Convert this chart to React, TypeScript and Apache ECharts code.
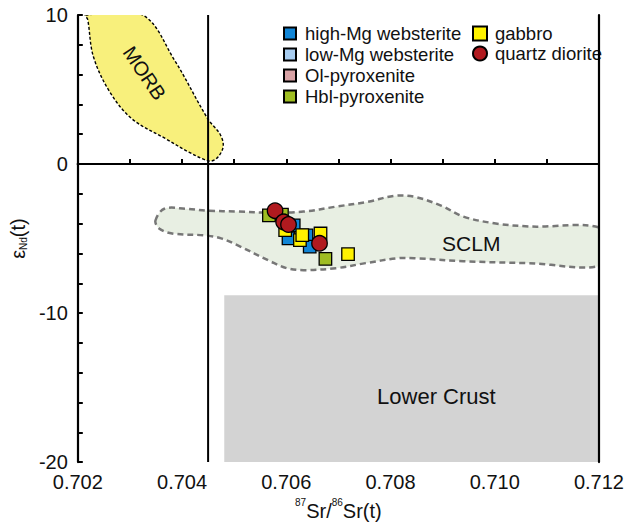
import React, { useEffect, useRef } from 'react';
import * as echarts from 'echarts';

// ---- data ----
const xLabelValues = [0.702, 0.704, 0.706, 0.708, 0.71, 0.712];
const yLabelValues = [-20, -10, 0, 10];

const highMgWebsterite: number[][] = [
  [0.706143, -4.11], [0.706043, -4.99], [0.706388, -4.79], [0.70645, -5.54],
];
const lowMgWebsterite: number[][] = [];
const olPyroxenite: number[][] = [];
const hblPyroxenite: number[][] = [
  [0.705667, -3.44], [0.705917, -3.39], [0.706751, -6.37],
];
const gabbro: number[][] = [
  [0.705979, -4.44], [0.706262, -5.1], [0.706307, -4.77], [0.706657, -4.66], [0.707185, -6.05],
];
const quartzDiorite: number[][] = [
  [0.705785, -3.13], [0.705949, -3.88], [0.706043, -4.06], [0.706638, -5.32],
];

const morbOutline: number[][] = [
  [0.70215, 10], [0.70324, 10], [0.70385, 7], [0.7045, 3], [0.70473, 2], [0.70479, 1.2],
  [0.70469, 0.47], [0.70456, 0.2], [0.70441, 0.33], [0.70413, 0.8], [0.7037, 1.67],
  [0.70305, 3], [0.70262, 4.8], [0.7023, 7.2], [0.70219, 9.7],
];
const sclmOutline: number[][] = [
  [0.70349, -3.79], [0.70366, -3.0], [0.70407, -3.0], [0.7045, -3.13], [0.70507, -3.19],
  [0.70569, -3.26], [0.70633, -3.19], [0.70695, -2.86], [0.70757, -2.53], [0.70808, -2.13],
  [0.70846, -2.2], [0.70897, -2.79], [0.7094, -3.53], [0.71002, -3.99], [0.71066, -4.19],
  [0.7121, -4.4], [0.7121, -6.72], [0.71066, -6.65], [0.7094, -6.52], [0.70846, -6.32],
  [0.70814, -6.32], [0.70752, -6.65], [0.70695, -6.99], [0.70633, -7.12], [0.70601, -6.99],
  [0.70569, -6.52], [0.70507, -5.46], [0.70475, -4.99], [0.70445, -4.79], [0.70381, -4.66],
  [0.70356, -4.32],
];
const lowerCrustBox: number[][] = [[0.70481, -20], [0.712, -8.8]];
const bulkEarthSr = 0.7045;
const chondriteNd = 0;

const FONT = '"Liberation Sans", Arial, sans-serif';
const TXT = '#111';

function polygonSeries(points: number[][], style: any, z: number, smooth: number) {
  return {
    type: 'custom',
    z,
    silent: true,
    clip: true,
    data: [points[0]],
    renderItem: (_p: any, api: any) => ({
      type: 'polygon',
      shape: { points: points.map((pt) => api.coord(pt)), smooth },
      style,
    }),
  };
}

function textSeries(text: string, at: number[], fontSize: number, rotationDeg: number) {
  return {
    type: 'custom',
    z: 4,
    silent: true,
    data: [at],
    renderItem: (_p: any, api: any) => {
      const c = api.coord(at);
      return {
        type: 'text',
        x: c[0],
        y: c[1],
        rotation: (rotationDeg * Math.PI) / 180,
        style: {
          text,
          fill: TXT,
          fontSize,
          fontFamily: FONT,
          align: 'center',
          verticalAlign: 'middle',
          textAlign: 'center',
          textVerticalAlign: 'middle',
        },
      };
    },
  };
}

function scatter(name: string, data: number[][], color: string, symbol: string, size: number) {
  return {
    type: 'scatter',
    name,
    data,
    symbol,
    symbolSize: size,
    z: 6,
    itemStyle: { color, borderColor: '#000', borderWidth: 1.3, opacity: 1 },
  };
}

export default function App() {
  const ref = useRef<HTMLDivElement>(null);
  useEffect(() => {
    if (!ref.current) return;
    const chart = echarts.init(ref.current, undefined, { renderer: 'svg' });
    const axisLine = { show: true, lineStyle: { color: '#000', width: 2.2 } };
    const option: any = {
      animation: false,
      backgroundColor: '#fff',
      grid: { left: 77, top: 15, width: 530, height: 451, show: false },
      legend: [
        {
          orient: 'vertical',
          left: 278,
          top: 19,
          itemWidth: 12,
          itemHeight: 12,
          itemGap: 2,
          textStyle: { fontSize: 18.5, fontFamily: FONT, color: TXT, padding: [0, 0, 0, 4] },
          data: [
            { name: 'high-Mg websterite', icon: 'rect' },
            { name: 'low-Mg websterite', icon: 'rect' },
            { name: 'Ol-pyroxenite', icon: 'rect' },
            { name: 'Hbl-pyroxenite', icon: 'rect' },
          ],
          selectedMode: false,
        },
        {
          orient: 'vertical',
          left: 467,
          top: 19,
          itemWidth: 14,
          itemHeight: 14,
          itemGap: 1,
          textStyle: { fontSize: 18.5, fontFamily: FONT, color: TXT, padding: [0, 0, 0, 3] },
          data: [
            { name: 'gabbro', icon: 'rect' },
            { name: 'quartz diorite', icon: 'circle' },
          ],
          selectedMode: false,
        },
      ],
      xAxis: [
        {
          type: 'value',
          min: 0.702,
          max: 0.712,
          interval: 0.001,
          z: 10,
          position: 'bottom',
          axisLine,
          axisTick: { show: true, inside: true, length: 5, lineStyle: { color: '#000', width: 2 } },
          splitLine: { show: false },
          axisLabel: {
            margin: 10,
            fontSize: 20,
            fontFamily: FONT,
            color: TXT,
            formatter: (v: number) => {
              const hit = xLabelValues.find((t) => Math.abs(t - v) < 1e-7);
              return hit !== undefined ? hit.toFixed(3) : '';
            },
          },
          name: '{sup|87}{n|Sr/}{sup|86}{n|Sr(t)}',
          nameLocation: 'middle',
          nameGap: 30,
          nameTextStyle: {
            rich: {
              n: { fontSize: 20, fontFamily: FONT, color: TXT, lineHeight: 24, verticalAlign: 'bottom' },
              sup: { fontSize: 10, fontFamily: FONT, color: TXT, lineHeight: 17, verticalAlign: 'top' },
            },
          },
        },
        {
          type: 'value',
          min: 0.702,
          max: 0.712,
          position: 'top',
          z: 10,
          axisLine,
          axisTick: { show: false },
          axisLabel: { show: false },
          splitLine: { show: false },
        },
      ],
      yAxis: [
        {
          type: 'value',
          min: -20,
          max: 10,
          interval: 2,
          z: 10,
          position: 'left',
          axisLine,
          axisTick: { show: true, inside: true, length: 5, lineStyle: { color: '#000', width: 2 } },
          splitLine: { show: false },
          axisLabel: {
            margin: 10,
            fontSize: 20,
            fontFamily: FONT,
            color: TXT,
            formatter: (v: number) => (yLabelValues.includes(Math.round(v)) && Math.abs(v - Math.round(v)) < 1e-9 ? String(Math.round(v)) : ''),
          },
          name: '{e|ε}{s|Nd}{e|(t)}',
          nameLocation: 'middle',
          nameRotate: 90,
          nameGap: 44,
          nameTextStyle: {
            rich: {
              e: { fontSize: 20, fontFamily: FONT, color: TXT, lineHeight: 24, verticalAlign: 'bottom' },
              s: { fontSize: 10, fontFamily: FONT, color: TXT, lineHeight: 10, verticalAlign: 'bottom' },
            },
          },
        },
        {
          type: 'value',
          min: -20,
          max: 10,
          position: 'right',
          z: 10,
          axisLine,
          axisTick: { show: false },
          axisLabel: { show: false },
          splitLine: { show: false },
        },
      ],
      series: [
        {
          type: 'custom',
          z: 1,
          silent: true,
          clip: true,
          data: [lowerCrustBox[0]],
          renderItem: (_p: any, api: any) => {
            const a = api.coord(lowerCrustBox[0]);
            const b = api.coord(lowerCrustBox[1]);
            return {
              type: 'rect',
              shape: { x: a[0], y: b[1], width: b[0] - a[0], height: a[1] - b[1] },
              style: { fill: '#d3d3d3' },
            };
          },
        },
        polygonSeries(sclmOutline, { fill: '#e8efe3', stroke: '#777', lineWidth: 2.5, lineDash: [6, 4] }, 1, 0.35),
        polygonSeries(morbOutline, { fill: '#f8f07c', stroke: '#000', lineWidth: 1.4, lineDash: [3, 2] }, 1, 0.35),
        {
          type: 'line',
          z: 3,
          silent: true,
          symbol: 'none',
          data: [[bulkEarthSr, -20], [bulkEarthSr, 10]],
          lineStyle: { color: '#000', width: 2 },
        },
        {
          type: 'line',
          z: 3,
          silent: true,
          symbol: 'none',
          data: [[0.702, chondriteNd], [0.712, chondriteNd]],
          lineStyle: { color: '#000', width: 2 },
        },
        textSeries('MORB', [0.70328, 6.1], 20, -56),
        textSeries('SCLM', [0.70955, -5.3], 21, 0),
        textSeries('Lower Crust', [0.70888, -15.6], 22, 0),
        scatter('high-Mg websterite', highMgWebsterite, '#1185d6', 'rect', 12.5),
        scatter('low-Mg websterite', lowMgWebsterite, '#a8cdf0', 'rect', 12.5),
        scatter('Ol-pyroxenite', olPyroxenite, '#d9a3a6', 'rect', 12.5),
        scatter('Hbl-pyroxenite', hblPyroxenite, '#9fbd22', 'rect', 12.5),
        scatter('gabbro', gabbro, '#fff200', 'rect', 12.5),
        scatter('quartz diorite', quartzDiorite, '#b11a1f', 'circle', 15.5),
      ],
    };
    chart.setOption(option);
    return () => chart.dispose();
  }, []);
  return (
    <div
      ref={ref}
      style={{ position: 'fixed', left: 0, top: 0, width: 627, height: 526, background: '#fff' }}
    />
  );
}
